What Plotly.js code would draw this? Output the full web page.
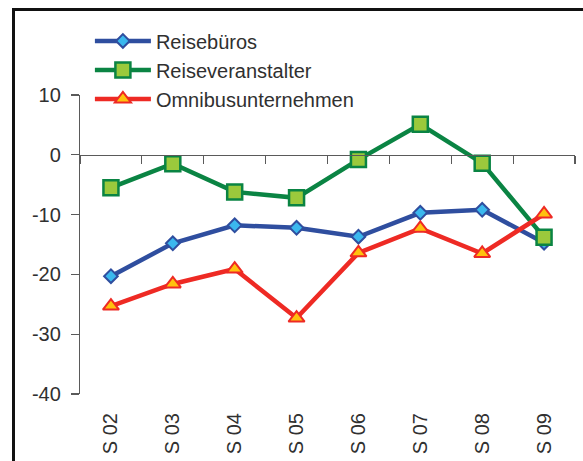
<!DOCTYPE html>
<html>
<head>
<meta charset="utf-8">
<script src="https://cdn.plot.ly/plotly-3.0.1.min.js"></script>
<style>
  html, body { margin: 0; padding: 0; background: #fff; overflow: hidden; }
  #wrap { position: relative; width: 583px; height: 461px; }
  #frame { position: absolute; left: 12px; top: 8px; width: 700px; height: 700px;
           border-left: 3px solid #111; border-top: 3px solid #111; pointer-events: none; }
  #chart { position: absolute; left: 0; top: 0; width: 583px; height: 461px; }
</style>
</head>
<body>
<div id="wrap">
  <div id="chart"></div>
  <div id="frame"></div>
</div>
<script>
const categories = ["S 02", "S 03", "S 04", "S 05", "S 06", "S 07", "S 08", "S 09"];
const reisebueros = [-20.3, -14.8, -11.8, -12.2, -13.7, -9.7, -9.2, -14.7];
const reiseveranstalter = [-5.5, -1.5, -6.2, -7.2, -0.8, 5.1, -1.4, -13.8];
const omnibus = [-25.3, -21.6, -19.1, -27.3, -16.4, -12.3, -16.5, -9.9];
const yTickVals = [10, 0, -10, -20, -30, -40];
const yTickText = ["10", "0", "-10", "-20", "-30", "-40"];

const FONT = "Liberation Sans, Arial, sans-serif";
const TEXT_COLOR = "#303030";
const AXIS_COLOR = "#5a5a5a";

const traces = [
  {
    name: "Reisebüros", x: categories, y: reisebueros, type: "scatter", mode: "lines+markers",
    line: { color: "#2F4E9F", width: 4.5 },
    marker: { symbol: "diamond", size: 10.5, color: "#3BB8EE", line: { color: "#2F4E9F", width: 2 } }
  },
  {
    name: "Reiseveranstalter", x: categories, y: reiseveranstalter, type: "scatter", mode: "lines+markers",
    line: { color: "#0A8443", width: 4.5 },
    marker: { symbol: "square", size: 15, color: "#9BC93C", line: { color: "#0A8443", width: 2.5 } }
  },
  {
    name: "Omnibusunternehmen", x: categories, y: omnibus, type: "scatter", mode: "lines+markers",
    line: { color: "#EE2A24", width: 4.5 },
    marker: { symbol: "triangle-up", size: 14, color: "#FFC20E", line: { color: "#EE2A24", width: 2 } }
  },
  {
    name: "axis", x: categories, y: categories.map(() => null), xaxis: "x2", yaxis: "y",
    type: "scatter", mode: "lines", showlegend: false, hoverinfo: "skip"
  }
];

const layout = {
  width: 583, height: 461,
  margin: { l: 80, r: 8, t: 95, b: 67 },
  paper_bgcolor: "rgba(0,0,0,0)", plot_bgcolor: "rgba(0,0,0,0)",
  font: { family: FONT, size: 20, color: TEXT_COLOR },
  showlegend: true,
  legend: {
    x: 0.02, y: 1.246, xanchor: "left", yanchor: "top",
    bgcolor: "rgba(0,0,0,0)", borderwidth: 0,
    font: { family: FONT, size: 20, color: TEXT_COLOR },
    itemwidth: 56, tracegroupgap: 0
  },
  xaxis: {
    type: "category", range: [-0.5, 7.5], showline: false, ticks: "", showgrid: false, zeroline: false,
    tickangle: -90, ticklabelstandoff: 14,
    tickfont: { family: FONT, size: 20, color: TEXT_COLOR }, fixedrange: true
  },
  xaxis2: {
    type: "category", overlaying: "x", anchor: "free", position: 0.8, side: "bottom",
    range: [-0.5, 7.5], showline: true, linecolor: AXIS_COLOR, linewidth: 1.2,
    ticks: "outside", tickson: "boundaries", ticklen: 8, tickwidth: 1.2, tickcolor: AXIS_COLOR,
    showticklabels: false, showgrid: false, zeroline: false, fixedrange: true
  },
  yaxis: {
    range: [-40, 10], tickvals: yTickVals, ticktext: yTickText,
    showline: true, linecolor: AXIS_COLOR, linewidth: 1.2,
    ticks: "outside", ticklen: 8, tickwidth: 1.2, tickcolor: AXIS_COLOR,
    showgrid: false, zeroline: false, ticklabelstandoff: 6,
    tickfont: { family: FONT, size: 20, color: TEXT_COLOR }, fixedrange: true
  }
};

Plotly.newPlot("chart", traces, layout, { displayModeBar: false, staticPlot: true });
</script>
</body>
</html>
